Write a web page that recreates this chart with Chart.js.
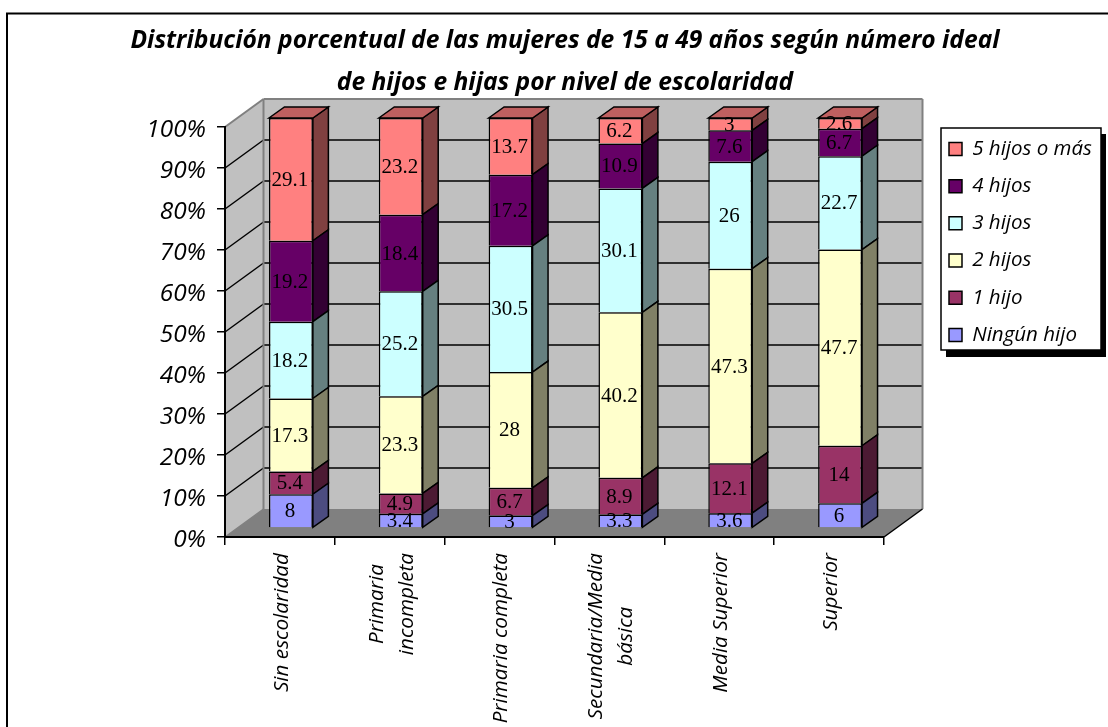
<!DOCTYPE html>
<html lang="es">
<head>
<meta charset="utf-8">
<title>Número ideal de hijos e hijas</title>
<script src="https://cdn.jsdelivr.net/npm/chart.js@4/dist/chart.umd.min.js"></script>
<style>
  html, body { margin: 0; padding: 0; background: #fff; overflow: hidden; }
  canvas { display: block; }
</style>
</head>
<body>
<canvas id="grafica" width="1108" height="727"></canvas>
<script>
const categorias = [
  ["Sin escolaridad"],
  ["Primaria", "incompleta"],
  ["Primaria completa"],
  ["Secundaria/Media", "básica"],
  ["Media Superior"],
  ["Superior"]
];
const nombresSeries = ["Ningún hijo", "1 hijo", "2 hijos", "3 hijos", "4 hijos", "5 hijos o más"];

const ningunHijo = [8, 3.4, 3, 3.3, 3.6, 6];
const unHijo = [5.4, 4.9, 6.7, 8.9, 12.1, 14];
const dosHijos = [17.3, 23.3, 28, 40.2, 47.3, 47.7];
const tresHijos = [18.2, 25.2, 30.5, 30.1, 26, 22.7];
const cuatroHijos = [19.2, 18.4, 17.2, 10.9, 7.6, 6.7];
const cincoHijos = [29.1, 23.2, 13.7, 6.2, 3, 2.6];
const series = [ningunHijo, unHijo, dosHijos, tresHijos, cuatroHijos, cincoHijos];

const coloresFrente = ["#9999ff", "#993366", "#ffffcc", "#ccffff", "#660066", "#ff8080"];
const coloresLado = ["#4c4c80", "#4c1a33", "#808066", "#668080", "#330033", "#804040"];
const colorTapa = "#bf6060";

// las columnas suman poco menos de 100, se reparten al 100% como en un apilado porcentual
const totales = categorias.map((_, i) => series.reduce((suma, s) => suma + s[i], 0));

// profundidad de la caja 3D y de las barras
const fondo = { x: 38.5, y: -28 };
const barra = { x: 15.5, y: -11 };
const desplazo = { x: 11, y: -9 };

const FUENTE_EJES = '"Open Sans"';

function poligono(ctx, puntos, relleno, trazo, grosor) {
  ctx.beginPath();
  puntos.forEach((p, i) => i ? ctx.lineTo(p[0], p[1]) : ctx.moveTo(p[0], p[1]));
  ctx.closePath();
  if (relleno) { ctx.fillStyle = relleno; ctx.fill(); }
  if (trazo) { ctx.strokeStyle = trazo; ctx.lineWidth = grosor; ctx.stroke(); }
}

function linea(ctx, x1, y1, x2, y2, color, grosor) {
  ctx.beginPath();
  ctx.moveTo(x1, y1);
  ctx.lineTo(x2, y2);
  ctx.strokeStyle = color;
  ctx.lineWidth = grosor;
  ctx.stroke();
}

const caja3d = {
  id: "caja3d",

  afterLayout(chart) {
    // titulo y leyenda van fuera del sitio que les da el layout
    const t = chart.titleBlock;
    t.left = 65;
    t.right = 1065;
    const l = chart.legend;
    l.left = 932.3;
    l.right = 932.3 + l.width;
    l.top = 122;
    l.bottom = 122 + l.height;
    // los porcentajes quedan un poco altos con esta fuente
    chart.scales.y.getLabelItems().forEach(item => { item.textOffset += 3; });
  },

  beforeDraw(chart) {
    const { ctx, scales } = chart;
    const x = scales.x, y = scales.y;
    const y0 = y.getPixelForValue(0), y100 = y.getPixelForValue(100);

    ctx.save();
    // marco, abierto por abajo y por la derecha
    ctx.fillStyle = "#fff";
    ctx.fillRect(0, 0, chart.width, chart.height);
    linea(ctx, 7, 730, 7, 13.5, "#000", 2);
    linea(ctx, 6, 13.5, 1108, 13.5, "#000", 2);

    // paredes y suelo
    poligono(ctx, [[x.left, y100], [x.left + fondo.x, y100 + fondo.y], [x.left + fondo.x, y0 + fondo.y], [x.left, y0]], "#c0c0c0");
    poligono(ctx, [[x.left + fondo.x, y100 + fondo.y], [x.right + fondo.x, y100 + fondo.y], [x.right + fondo.x, y0 + fondo.y], [x.left + fondo.x, y0 + fondo.y]], "#c0c0c0");
    poligono(ctx, [[x.left, y0], [x.right, y0], [x.right + fondo.x, y0 + fondo.y], [x.left + fondo.x, y0 + fondo.y]], "#808080");

    // rejilla sobre las dos paredes
    y.ticks.forEach(t => {
      if (t.value === 0 || t.value === 100) return;
      const py = y.getPixelForValue(t.value);
      linea(ctx, x.left, py, x.left + fondo.x, py + fondo.y, "#000", 1.5);
      linea(ctx, x.left + fondo.x, py + fondo.y, x.right + fondo.x, py + fondo.y, "#000", 1.5);
    });

    // aristas grises de la caja
    const gris = "#808080";
    linea(ctx, x.left, y100, x.left + fondo.x, y100 + fondo.y, gris, 2);
    linea(ctx, x.left + fondo.x, y100 + fondo.y, x.right + fondo.x, y100 + fondo.y, gris, 2);
    linea(ctx, x.left + fondo.x, y100 + fondo.y, x.left + fondo.x, y0 + fondo.y, gris, 2);
    linea(ctx, x.right + fondo.x, y100 + fondo.y, x.right + fondo.x, y0 + fondo.y, gris, 2);
    linea(ctx, x.left, y0, x.left + fondo.x, y0 + fondo.y, gris, 1.5);
    linea(ctx, x.right, y0, x.right + fondo.x, y0 + fondo.y, "#000", 1.5);

    // fondo y sombra de la leyenda
    ctx.fillStyle = "#000";
    ctx.fillRect(946, 134, 160, 223);
    ctx.fillStyle = "#fff";
    ctx.fillRect(941, 128, 160, 222);
    ctx.strokeStyle = "#000";
    ctx.lineWidth = 1.5;
    ctx.strokeRect(941, 128, 160, 222);
    ctx.restore();
  },

  beforeDatasetDraw(chart, args) {
    const { ctx } = chart;
    ctx.save();
    ctx.translate(desplazo.x, desplazo.y);
    // cara lateral de cada tramo y tapa de la columna
    args.meta.data.forEach(el => {
      const r = el.x + el.width / 2;
      poligono(ctx, [[r, el.y], [r + barra.x, el.y + barra.y], [r + barra.x, el.base + barra.y], [r, el.base]], coloresLado[args.index], "#000", 1.5);
      if (args.index === series.length - 1) {
        const izq = el.x - el.width / 2;
        poligono(ctx, [[izq, el.y], [izq + barra.x, el.y + barra.y], [r + barra.x, el.y + barra.y], [r, el.y]], colorTapa, "#000", 1.5);
      }
    });
  },

  afterDatasetDraw(chart) {
    chart.ctx.restore();
  },

  afterDatasetsDraw(chart) {
    const { ctx, scales } = chart;
    ctx.save();
    // valores dentro de cada tramo
    ctx.font = '21px "Liberation Serif"';
    ctx.fillStyle = "#000";
    ctx.textAlign = "center";
    ctx.textBaseline = "middle";
    series.forEach((valores, s) => {
      chart.getDatasetMeta(s).data.forEach((el, i) => {
        ctx.fillText(String(valores[i]), el.x + desplazo.x - 1, (el.y + el.base) / 2 + desplazo.y + 1);
      });
    });

    // categorias en vertical, con el texto centrado entre sus lineas
    ctx.font = 'italic 20.7px ' + FUENTE_EJES;
    categorias.forEach((lineas, i) => {
      const px = scales.x.getPixelForValue(i) + 2;
      const ancho = Math.max(...lineas.map(t => ctx.measureText(t).width));
      lineas.forEach((texto, j) => {
        ctx.save();
        ctx.translate(px + (j - (lineas.length - 1) / 2) * 30, 553);
        ctx.rotate(-Math.PI / 2);
        ctx.fillText(texto, -ancho / 2, 0);
        ctx.restore();
      });
    });
    ctx.restore();
  }
};

new Chart(document.getElementById("grafica"), {
  type: "bar",
  data: {
    labels: categorias,
    datasets: series.map((valores, s) => ({
      label: nombresSeries[s],
      data: valores.map((v, i) => v * 100 / totales[i]),
      backgroundColor: coloresFrente[s],
      borderColor: "#000",
      borderWidth: 1.5,
      barPercentage: 0.4,
      categoryPercentage: 1,
      clip: false
    }))
  },
  options: {
    responsive: false,
    animation: false,
    devicePixelRatio: 1,
    layout: { padding: { left: 0, right: 224, top: 0, bottom: 160 } },
    plugins: {
      tooltip: { enabled: false },
      title: {
        display: true,
        text: [
          "Distribución porcentual de las mujeres de 15 a 49 años según número ideal",
          "de hijos e hijas por nivel de escolaridad"
        ],
        color: "#000",
        font: { family: FUENTE_EJES, size: 24.6, style: "italic", weight: "bold", lineHeight: 42 / 24.6 },
        padding: { top: 20, bottom: 23 }
      },
      legend: {
        position: "chartArea",
        align: "start",
        reverse: true,
        labels: {
          color: "#000",
          boxWidth: 13,
          boxHeight: 13,
          padding: 16.7,
          font: { family: FUENTE_EJES, size: 20.5, style: "italic" }
        }
      }
    },
    scales: {
      x: {
        stacked: true,
        afterFit(s) { s.height = 30; },
        grid: { drawOnChartArea: false, tickLength: 8, color: "#000", lineWidth: 1.5 },
        border: { color: "#000", width: 2 },
        ticks: { display: false }
      },
      y: {
        stacked: true,
        min: 0,
        max: 100,
        afterFit(s) { s.width = 225; },
        grid: { drawOnChartArea: false, tickLength: 8, color: "#000", lineWidth: 1.5 },
        border: { color: "#000", width: 2 },
        ticks: {
          stepSize: 10,
          padding: 11,
          color: "#000",
          font: { family: FUENTE_EJES, size: 24.4, style: "italic" },
          callback: v => v + "%"
        }
      }
    }
  },
  plugins: [caja3d]
});
</script>
</body>
</html>
